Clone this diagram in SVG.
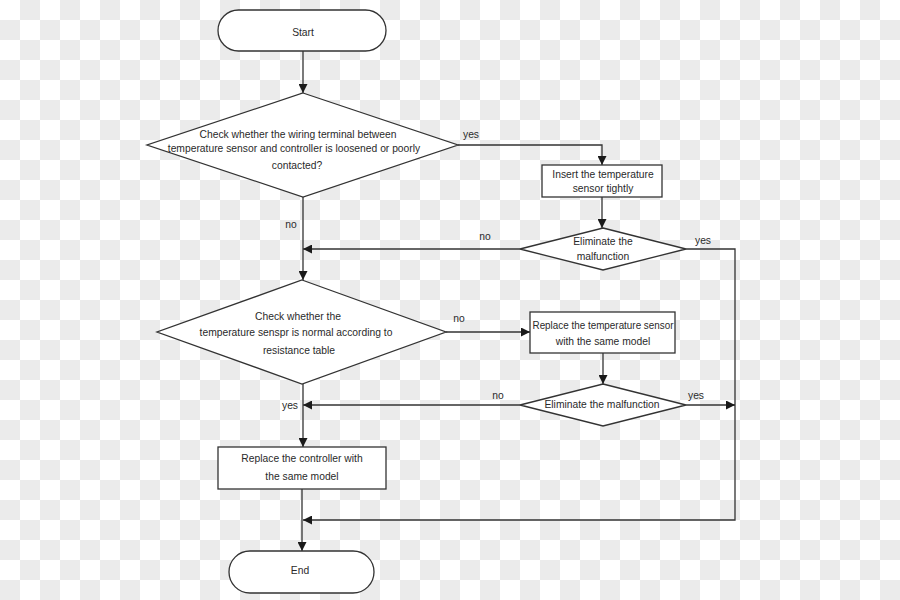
<svg xmlns="http://www.w3.org/2000/svg" width="900" height="600" viewBox="0 0 900 600">
<defs>
<pattern id="chk" x="0" y="0" width="40" height="40" patternUnits="userSpaceOnUse">
<rect width="40" height="40" fill="#ffffff"/>
<rect x="20" y="0" width="20" height="20" fill="#ebebeb"/>
<rect x="0" y="20" width="20" height="20" fill="#ebebeb"/>
</pattern>
<marker id="ah" viewBox="0 0 10 10" refX="10" refY="5" markerWidth="9" markerHeight="9" markerUnits="userSpaceOnUse" orient="auto">
<path d="M0,0 L10,5 L0,10 Z" fill="#1a1a1a"/>
</marker>
</defs>
<style>
.shape{fill:#ffffff;stroke:#333333;stroke-width:1.3}
.ln{fill:none;stroke:#333333;stroke-width:1.3}
.arr{marker-end:url(#ah)}
text{font-family:"Liberation Sans",Arial,sans-serif;font-size:10.3px;fill:#2a2a2a;text-anchor:middle}
</style>
<rect width="900" height="600" fill="url(#chk)"/>
<g id="connectors">
<line class="ln arr" x1="303" y1="51" x2="303" y2="93"/>
<polyline class="ln arr" points="458,145 602,145 602,165"/>
<line class="ln arr" x1="602" y1="197" x2="602" y2="228"/>
<line class="ln arr" x1="520" y1="249" x2="303" y2="249"/>
<polyline class="ln arr" points="686,249 735,249 735,520 303,520"/>
<line class="ln arr" x1="303" y1="197" x2="303" y2="280"/>
<line class="ln arr" x1="446" y1="332" x2="530" y2="332"/>
<line class="ln arr" x1="603" y1="353" x2="603" y2="384"/>
<line class="ln arr" x1="520" y1="405" x2="303" y2="405"/>
<line class="ln arr" x1="686" y1="405" x2="735" y2="405"/>
<line class="ln arr" x1="303" y1="384" x2="303" y2="447"/>
<line class="ln arr" x1="302" y1="489" x2="302" y2="551"/>
<text x="471" y="138">yes</text>
<text x="485" y="240">no</text>
<text x="703" y="244">yes</text>
<text x="291" y="228">no</text>
<text x="459" y="322">no</text>
<text x="498" y="399">no</text>
<text x="696" y="399">yes</text>
<text x="290" y="409">yes</text>
</g>
<g id="start">
<rect class="shape" x="218" y="10" width="168" height="41" rx="20.5"/>
<text x="303" y="36">Start</text>
</g>
<g id="check-wiring">
<polygon class="shape" points="303,93 458,145 303,197 147,145"/>
<text x="298" y="138">Check whether the wiring terminal between</text>
<text x="294" y="152">temperature sensor and controller is loosened or poorly</text>
<text x="297" y="169">contacted?</text>
</g>
<g id="insert-sensor">
<rect class="shape" x="542" y="165" width="120" height="32"/>
<text x="603" y="178">Insert the temperature</text>
<text x="603" y="192">sensor tightly</text>
</g>
<g id="eliminate-1">
<polygon class="shape" points="603,228 686,249 603,270 520,249"/>
<text x="603" y="245">Eliminate the</text>
<text x="603" y="260">malfunction</text>
</g>
<g id="check-sensor">
<polygon class="shape" points="302,280 446,332 302,384 157,332"/>
<text x="298" y="320">Check whether the</text>
<text x="296" y="336">temperature senspr is normal according to</text>
<text x="299" y="354">resistance table</text>
</g>
<g id="replace-sensor">
<rect class="shape" x="530" y="312" width="145" height="41"/>
<text x="603" y="329" textLength="141" lengthAdjust="spacingAndGlyphs">Replace the temperature sensor</text>
<text x="603" y="345">with the same model</text>
</g>
<g id="eliminate-2">
<polygon class="shape" points="603,384 686,405 603,426 520,405"/>
<text x="602" y="408">Eliminate the malfunction</text>
</g>
<g id="replace-controller">
<rect class="shape" x="218" y="447" width="168" height="42"/>
<text x="302" y="462">Replace the controller with</text>
<text x="302" y="480">the same model</text>
</g>
<g id="end">
<rect class="shape" x="229" y="551" width="145" height="42" rx="21"/>
<text x="300" y="574">End</text>
</g>
</svg>
